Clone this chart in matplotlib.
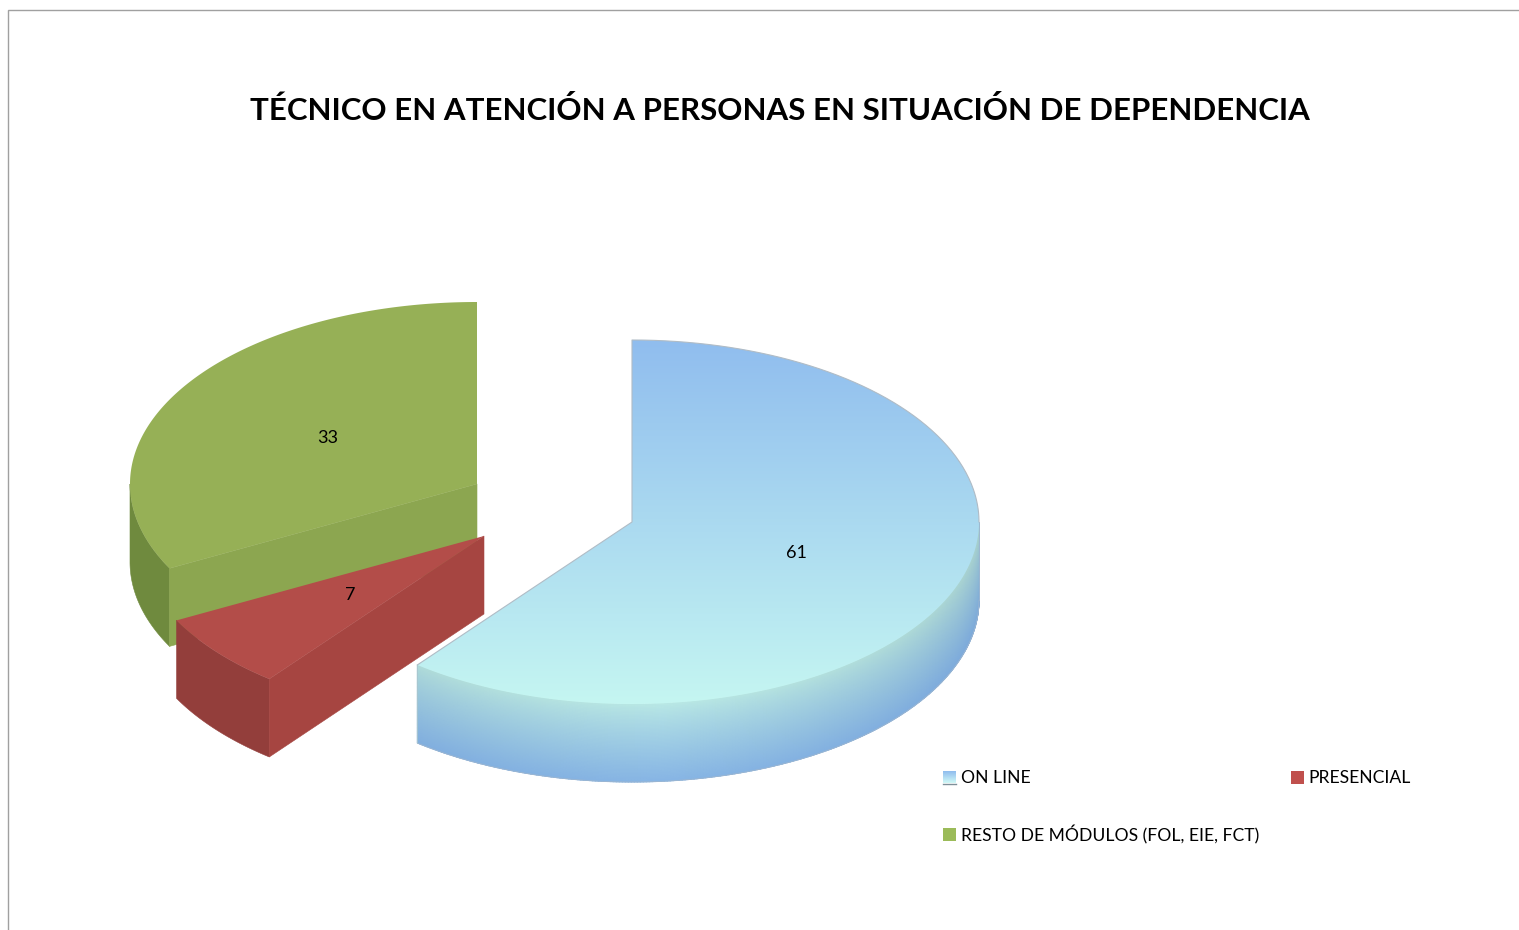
import matplotlib
matplotlib.use('Agg')
import matplotlib.pyplot as plt
import numpy as np
from matplotlib.patches import Polygon, Rectangle

plt.rcParams['font.family'] = ['Lato', 'DejaVu Sans']

title = 'TÉCNICO EN ATENCIÓN A PERSONAS EN SITUACIÓN DE DEPENDENCIA'
labels = ['ON LINE', 'PRESENCIAL', 'RESTO DE MÓDULOS (FOL, EIE, FCT)']
values = [61, 7, 33]

# all geometry is in reference pixels
RX, RY, DEPTH = 347, 182, 78
centers = [(632, 522), (484, 536), (477, 484)]
label_pos = [(796, 551), (350, 593), (328, 436)]
legend_pos = [(943, 777), (1291, 777), (943, 834)]
# the projected pie is not quite true to the angles, degrees per boundary
edge_nudge = [0, 0.8, 0, 0]

top_colors = [None, '#b34d49', '#96b056']
inner_colors = [None, '#a64541', '#8ca650']
outer_colors = [None, '#933e3b', '#6f8a3e']
swatch_colors = [None, '#c0504d', '#9bbb59']


def hex_rgb(c):
    return np.array(matplotlib.colors.to_rgb(c))


def arc(center, a0, a1, n=200):
    # angles in degrees clockwise from 12 o'clock
    t = np.radians(np.linspace(a0, a1, n))
    return center[0] + RX * np.sin(t), center[1] - RY * np.cos(t)


def extrude(ax, x, y, color, zorder):
    pts = np.column_stack([np.r_[x, x[::-1]], np.r_[y, y[::-1] + DEPTH]])
    ax.add_patch(Polygon(pts, closed=True, fc=color, ec=color, lw=0.4, zorder=zorder))


fig = plt.figure(figsize=(15.19, 9.3), dpi=100)
ax = fig.add_axes([0, 0, 1, 1])

edges = np.r_[0, np.cumsum(values)] / np.sum(values) * 360 + edge_nudge

# back to front: green, red, blue
base = {2: 1, 1: 5}
for i in [2, 1]:
    a0, a1 = edges[i], edges[i + 1]
    c = centers[i]
    z = base[i]
    x, y = arc(c, a0, min(a1, 270))
    extrude(ax, x, y, outer_colors[i], z)
    # face of the cut that looks at the viewer
    ex, ey = arc(c, a0, a0, 2)
    extrude(ax, np.array([c[0], ex[0]]), np.array([c[1], ey[0]]), inner_colors[i], z + 1)
    x, y = arc(c, a0, a1)
    pts = np.column_stack([np.r_[c[0], x], np.r_[c[1], y]])
    ax.add_patch(Polygon(pts, closed=True, fc=top_colors[i], ec='none', zorder=z + 2))

# blue slice
c = centers[0]
a0, a1 = edges[0], edges[1]

# rim, gradient runs down and is a bit darker near both ends
th = np.linspace(90, a1, 260)
tt = np.linspace(0, 1, 60)
tx, ty = arc(c, 90, a1, 260)
X = np.outer(tx, np.ones(60))
Y = np.outer(ty, np.ones(60)) + np.outer(np.ones(260), tt) * DEPTH
edge_w = np.clip(np.abs(th - 175) / 85, 0, 1)[:, None, None]
top_rim = hex_rgb('#bae9e5') * (1 - edge_w) + hex_rgb('#a6cfcc') * edge_w
bot_rim = hex_rgb('#87b5e4') * (1 - edge_w) + hex_rgb('#7ba8d9') * edge_w
s = (tt ** 0.85)[None, :, None]
rim = top_rim * (1 - s) + bot_rim * s
ax.pcolormesh(X, Y, rim, shading='gouraud', zorder=9)
ax.plot(tx, ty + DEPTH, color='#9db6d0', lw=0.6, zorder=9.5)
ax.plot([tx[-1], tx[-1]], [ty[-1], ty[-1] + DEPTH], color='#a9c6cf', lw=0.6, zorder=9.5)
ax.plot([tx[0], tx[0]], [ty[0], ty[0] + DEPTH], color='#9db6d0', lw=0.6, zorder=9.5)

# top face
x, y = arc(c, a0, a1, 400)
top_pts = np.column_stack([np.r_[c[0], x], np.r_[c[1], y]])
clip = Polygon(top_pts, closed=True, fc='none', ec='none', zorder=10)
ax.add_patch(clip)
grad = np.linspace(0, 1, 256)[:, None, None]
img = hex_rgb('#90bdee') * (1 - grad) + hex_rgb('#c5f6f2') * grad
im = ax.imshow(img, extent=(c[0] - RX, c[0] + RX, c[1] + RY, c[1] - RY), aspect='auto', zorder=10, interpolation='bilinear')
im.set_clip_path(clip)
# thin grey line on the back edges only
ox, oy = arc(c, 0, 90, 150)
ax.plot(np.r_[x[-1], c[0], ox], np.r_[y[-1], c[1], oy], color='#b0bcc6', lw=0.8, zorder=11)

# frame
ax.plot([7.5, 7.5, 1519], [930, 10.5, 10.5], color='#a0a0a0', lw=1.0, solid_joinstyle='miter', zorder=12)

ax.text(780, 111, title, fontsize=22.5, fontweight='bold', ha='center', va='center', color='black', zorder=13)
for v, p in zip(values, label_pos):
    ax.text(p[0], p[1] + 1.5, str(v), fontsize=13, ha='center', va='center', color='black', zorder=13)
for i, (name, p) in enumerate(zip(labels, legend_pos)):
    if i == 0:
        g = np.linspace(0, 1, 32)[:, None, None]
        sw = hex_rgb('#90bdee') * (1 - g) + hex_rgb('#d0f8f6') * g
        ax.imshow(sw, extent=(p[0], p[0] + 13, p[1] + 6, p[1] - 6), aspect='auto', zorder=12)
        ax.plot([p[0], p[0] + 13], [p[1] + 6.5, p[1] + 6.5], color='#7f8f99', lw=1, zorder=12)
    else:
        ax.add_patch(Rectangle((p[0], p[1] - 6), 12.5, 12.5, fc=swatch_colors[i], ec='none', zorder=12))
    ax.text(p[0] + 18 - (1 if i == 1 else 0), p[1] + 1, name, fontsize=12.6, ha='left', va='center', color='black', zorder=13)

ax.set_xlim(0, 1519)
ax.set_ylim(930, 0)
ax.axis('off')

fig.savefig('out.png', dpi=100, facecolor='white')
